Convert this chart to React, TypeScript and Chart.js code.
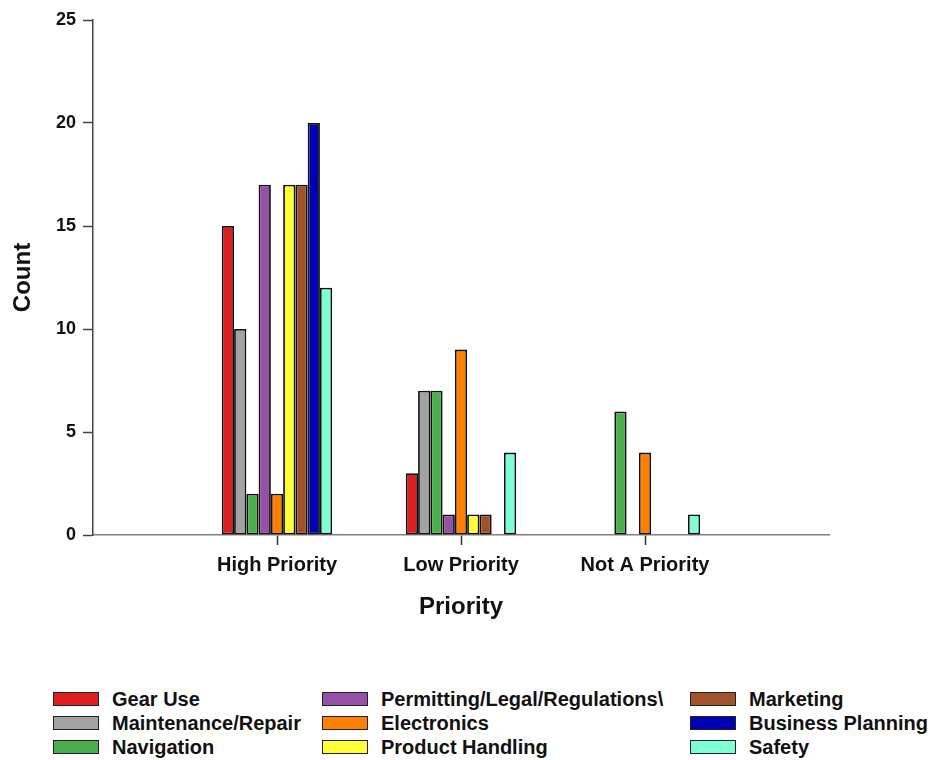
import React, { useEffect, useRef } from "react";
import { Chart, registerables } from "chart.js";

Chart.register(...registerables);

const categories = ["", "High Priority", "Low Priority", "Not A Priority", ""];
const seriesNames = [
  "Gear Use",
  "Maintenance/Repair",
  "Navigation",
  "Permitting/Legal/Regulations\\",
  "Electronics",
  "Product Handling",
  "Marketing",
  "Business Planning",
  "Safety",
];
const seriesColors = [
  "#DC1E1E",
  "#A3A3A3",
  "#4CAD4C",
  "#9551A6",
  "#FF8000",
  "#FFFF33",
  "#A0522D",
  "#0000B4",
  "#80FFD2",
];
const gearUse = [null, 15, 3, 0, null];
const maintenance = [null, 10, 7, 0, null];
const navigation = [null, 2, 7, 6, null];
const permitting = [null, 17, 1, 0, null];
const electronics = [null, 2, 9, 4, null];
const productHandling = [null, 17, 1, 0, null];
const marketing = [null, 17, 1, 0, null];
const businessPlanning = [null, 20, 0, 0, null];
const safety = [null, 12, 4, 1, null];
const seriesValues = [
  gearUse,
  maintenance,
  navigation,
  permitting,
  electronics,
  productHandling,
  marketing,
  businessPlanning,
  safety,
];
const yTicks = [0, 5, 10, 15, 20, 25];

const FONT = "'Liberation Sans', Arial, Helvetica, sans-serif";

export default function App() {
  const canvasRef = useRef<HTMLCanvasElement | null>(null);

  useEffect(() => {
    const canvas = canvasRef.current;
    if (!canvas) return;
    const chart = new Chart(canvas, {
      type: "bar",
      data: {
        labels: categories,
        datasets: seriesNames.map((name, i) => ({
          label: name,
          data: seriesValues[i],
          backgroundColor: seriesColors[i],
          borderColor: "#111111",
          borderWidth: 1.8,
          borderSkipped: false,
          inflateAmount: 0,
          categoryPercentage: 0.6,
          barPercentage: 1.0,
        })),
      },
      options: {
        animation: false,
        responsive: false,
        maintainAspectRatio: false,
        layout: { padding: { left: 0, right: 101, top: 20, bottom: 0 } },
        plugins: {
          legend: { display: false },
          tooltip: { enabled: false },
        },
        scales: {
          x: {
            type: "category",
            offset: false,
            afterFit: (s: any) => {
              s.height = 135;
            },
            border: { display: true, color: "#808080", width: 1.5 },
            grid: {
              display: true,
              offset: false,
              drawOnChartArea: false,
              drawTicks: true,
              tickLength: 10,
              tickWidth: 1.5,
              tickColor: (ctx: any) =>
                categories[ctx.index] ? "#333333" : "rgba(0,0,0,0)",
            },
            ticks: {
              color: "#111111",
              padding: 8,
              maxRotation: 0,
              autoSkip: false,
              font: { family: FONT, size: 20, weight: "bold" },
            },
            title: {
              display: true,
              text: "Priority",
              color: "#111111",
              font: { family: FONT, size: 24, weight: "bold" },
              padding: { top: 0, bottom: 48 },
            },
          },
          y: {
            min: 0,
            max: 25,
            afterFit: (s: any) => {
              s.width = 93;
            },
            afterBuildTicks: (s: any) => {
              s.ticks = yTicks.map((v) => ({ value: v }));
            },
            border: { display: true, color: "#444444", width: 1.5 },
            grid: {
              display: true,
              drawOnChartArea: false,
              drawTicks: true,
              tickLength: 10,
              tickWidth: 1.5,
              tickColor: "#444444",
            },
            ticks: {
              color: "#111111",
              padding: 7,
              font: { family: FONT, size: 18, weight: "bold" },
            },
            title: {
              display: true,
              text: "Count",
              color: "#111111",
              font: { family: FONT, size: 24, weight: "bold" },
              padding: { top: 9, bottom: 0 },
            },
          },
        },
      },
    });
    return () => chart.destroy();
  }, []);

  const colLefts = [53, 322, 690];
  const rowCenters = [699, 723, 747];

  return (
    <div
      style={{
        position: "fixed",
        left: 0,
        top: 0,
        width: 930,
        height: 760,
        background: "#ffffff",
        overflow: "hidden",
      }}
    >
      <canvas
        ref={canvasRef}
        width={930}
        height={670}
        style={{ position: "absolute", left: 0, top: 0, width: 930, height: 670 }}
      />
      {seriesNames.map((name, i) => {
        const col = Math.floor(i / 3);
        const row = i % 3;
        return (
          <div
            key={name}
            style={{
              position: "absolute",
              left: colLefts[col],
              top: rowCenters[row] - 12,
              height: 24,
              display: "flex",
              alignItems: "center",
              whiteSpace: "nowrap",
              fontFamily: FONT,
              fontWeight: "bold",
              fontSize: 20,
              color: "#111111",
            }}
          >
            <span
              style={{
                display: "inline-block",
                width: 44,
                height: 12,
                background: seriesColors[i],
                border: "1px solid #222222",
                marginRight: 13,
              }}
            />
            <span>{name}</span>
          </div>
        );
      })}
    </div>
  );
}
